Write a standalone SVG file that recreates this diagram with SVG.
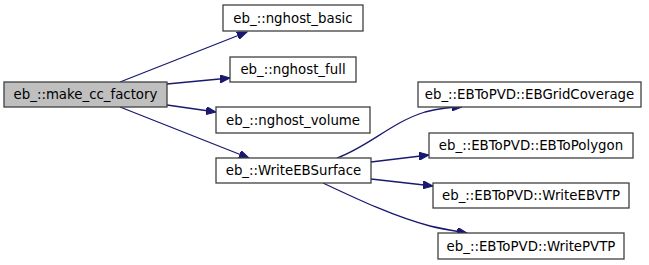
<svg xmlns="http://www.w3.org/2000/svg" width="649" height="265" viewBox="0 0 649 265">
  <style>
    .node rect { fill: #ffffff; stroke: #404040; stroke-width: 1.3; }
    .node.root rect { fill: #bfbfbf; }
    .node text { font-family: "DejaVu Sans", sans-serif; font-size: 13.33px; fill: #000000; text-anchor: middle; }
    .edge { fill: none; stroke: #191970; stroke-width: 1.3; marker-end: url(#arrow); }
  </style>
  <defs>
    <marker id="arrow" markerUnits="userSpaceOnUse" markerWidth="11" markerHeight="8" refX="10" refY="4" orient="auto">
      <path d="M0,0 L10,4 L0,8 z" fill="#191970" stroke="#191970" stroke-width="1"/>
    </marker>
  </defs>
  <rect width="649" height="265" fill="#ffffff"/>

  <g id="connectors">
    <path class="edge" d="M120,82 L247,32"/>
    <path class="edge" d="M167,84 L230,78"/>
    <path class="edge" d="M167,105 L216,112"/>
    <path class="edge" d="M120,107 L249,158"/>
    <path class="edge" d="M337,158 C368,147 392,122 425,112 C437,109 450,107 462,107"/>
    <path class="edge" d="M371,162 L429,155"/>
    <path class="edge" d="M371,179 L433,186"/>
    <path class="edge" d="M323,183 C357,199 395,217 430,226 C442,229 455,231 467,233"/>
  </g>

  <g id="make_cc_factory" class="node root">
    <rect x="4" y="82" width="163" height="25"/>
    <text x="85.5" y="99">eb_::make_cc_factory</text>
  </g>
  <g id="nghost_basic" class="node">
    <rect x="223" y="5" width="140" height="26"/>
    <text x="293" y="23">eb_::nghost_basic</text>
  </g>
  <g id="nghost_full" class="node">
    <rect x="230" y="57" width="126" height="25"/>
    <text x="293" y="74">eb_::nghost_full</text>
  </g>
  <g id="nghost_volume" class="node">
    <rect x="216" y="107" width="154" height="26"/>
    <text x="293" y="125">eb_::nghost_volume</text>
  </g>
  <g id="WriteEBSurface" class="node">
    <rect x="216" y="158" width="155" height="25"/>
    <text x="293.5" y="175">eb_::WriteEBSurface</text>
  </g>
  <g id="EBGridCoverage" class="node">
    <rect x="418" y="82" width="223" height="25"/>
    <text x="529.5" y="99">eb_::EBToPVD::EBGridCoverage</text>
  </g>
  <g id="EBToPolygon" class="node">
    <rect x="429" y="133" width="204" height="25"/>
    <text x="531" y="150">eb_::EBToPVD::EBToPolygon</text>
  </g>
  <g id="WriteEBVTP" class="node">
    <rect x="433" y="183" width="196" height="25"/>
    <text x="531" y="200">eb_::EBToPVD::WriteEBVTP</text>
  </g>
  <g id="WritePVTP" class="node">
    <rect x="438" y="233" width="186" height="26"/>
    <text x="531" y="251">eb_::EBToPVD::WritePVTP</text>
  </g>
</svg>
